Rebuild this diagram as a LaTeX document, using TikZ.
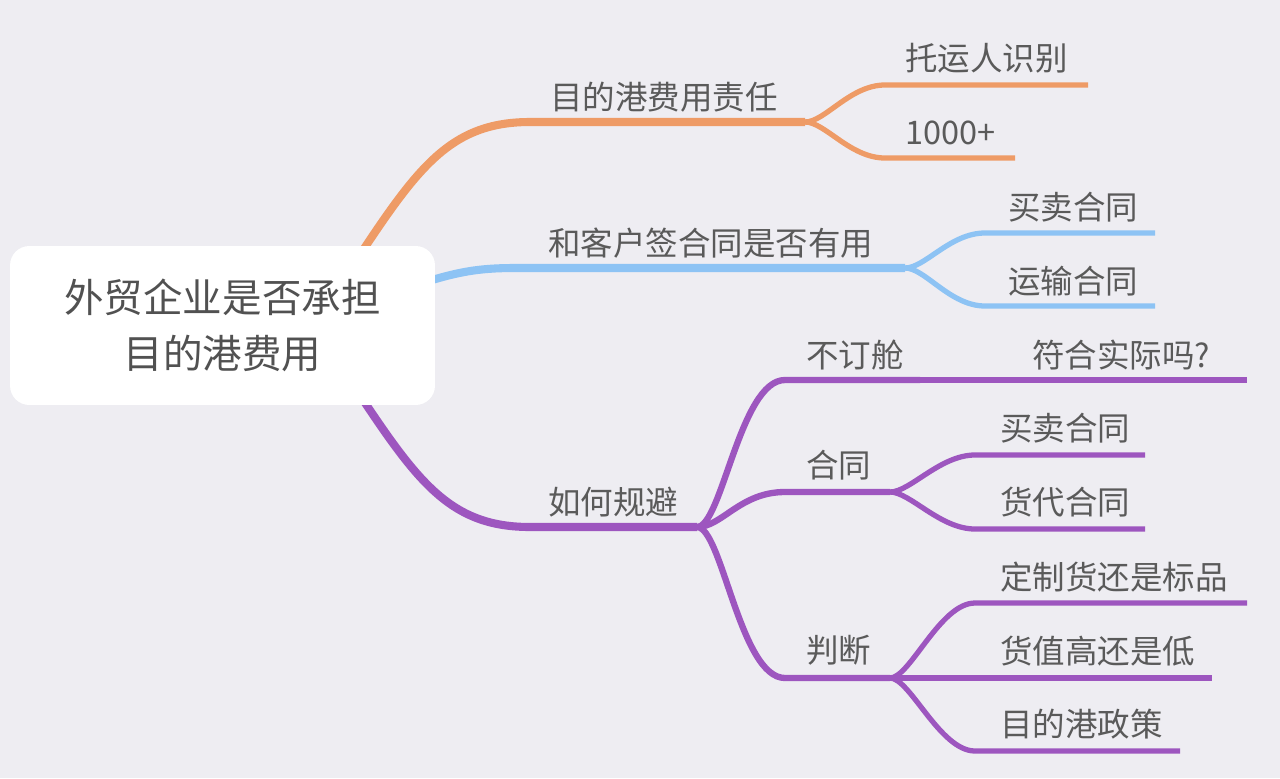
\documentclass[tikz,border=0pt]{standalone}
\usepackage{fontspec}
\setmainfont{Noto Sans CJK SC}
\usetikzlibrary{backgrounds}
\definecolor{bgcol}{HTML}{EEEDF2}
\definecolor{ink}{HTML}{5A5A5A}
\definecolor{orangeline}{HTML}{EE9B66}
\definecolor{blueline}{HTML}{8DC3F4}
\definecolor{purpleline}{HTML}{9D56BF}

\begin{document}
\begin{tikzpicture}[x=0.02cm, y=-0.02cm, line cap=round,
    topic/.style={anchor=west, inner sep=0pt, text=ink, font=\fontsize{18.5}{22}\selectfont},
    mainline/.style={line width=4.6pt},
    subline/.style={line width=3.6pt},
    leafline/.style={line width=3pt}]
    \useasboundingbox (0,0) rectangle (1280,778);
    \node[fill=white, rounded corners=11pt, minimum width=8.5cm, minimum height=3.18cm, align=center,
        text=ink!90!black, font=\fontsize{22.5}{32}\selectfont] (root) at (222.5,325.5) {外贸企业是否承担\\目的港费用};

    \coordinate (duty-in) at (330,300);
    \coordinate (duty-l) at (530,122);
    \coordinate (duty-r) at (805,122);
    \coordinate (shipper-l) at (885,85);
    \coordinate (shipper-r) at (1088,85);
    \coordinate (amount-l) at (885,158);
    \coordinate (amount-r) at (1015,158);
    \node[topic] (duty) at (550,97) {目的港费用责任};
    \node[topic] (shipper) at (905,58) {托运人识别};
    \node[topic] (amount) at (905,133) {1000+};

    \coordinate (contract-in) at (400,290);
    \coordinate (contract-l) at (515,268);
    \coordinate (contract-r) at (905,268);
    \coordinate (sales-l) at (985,233);
    \coordinate (sales-r) at (1155,233);
    \coordinate (transport-l) at (985,306);
    \coordinate (transport-r) at (1155,306);
    \node[topic] (contract) at (548,243) {和客户签合同是否有用};
    \node[topic] (sales) at (1008,207) {买卖合同};
    \node[topic] (transport) at (1008,281) {运输合同};

    \coordinate (avoid-in) at (330,350);
    \coordinate (avoid-l) at (530,527);
    \coordinate (avoid-r) at (697,527);
    \coordinate (nobook-l) at (785,380);
    \coordinate (nobook-r) at (920,380);
    \coordinate (real-r) at (1247,380);
    \coordinate (deal-l) at (785,492);
    \coordinate (deal-r) at (890,492);
    \coordinate (sales2-l) at (975,455);
    \coordinate (sales2-r) at (1145,455);
    \coordinate (agent-l) at (975,529);
    \coordinate (agent-r) at (1145,529);
    \coordinate (judge-l) at (785,678);
    \coordinate (judge-r) at (890,678);
    \coordinate (custom-l) at (975,603);
    \coordinate (custom-r) at (1247,603);
    \coordinate (value-l) at (975,678);
    \coordinate (value-r) at (1212,678);
    \coordinate (policy-l) at (975,751);
    \coordinate (policy-r) at (1180,751);
    \node[topic] (avoid) at (548,502) {如何规避};
    \node[topic] (nobook) at (806,355) {不订舱};
    \node[topic] (real) at (1032,355) {符合实际吗?};
    \node[topic] (deal) at (806,465) {合同};
    \node[topic] (sales2) at (1000,428) {买卖合同};
    \node[topic] (agent) at (1000,502) {货代合同};
    \node[topic] (judge) at (806,650) {判断};
    \node[topic] (custom) at (1000,577) {定制货还是标品};
    \node[topic] (value) at (1000,651) {货值高还是低};
    \node[topic] (policy) at (1000,724) {目的港政策};

    \begin{scope}[on background layer]
        \fill[bgcol] (0,0) rectangle (1280,778);
        \draw[orangeline, mainline] (duty-in) .. controls (410,180) and (440,122) .. (duty-l) -- (duty-r);
        \draw[orangeline, leafline] (duty-r) .. controls +(20,0) and +(-35,0) .. (shipper-l) -- (shipper-r);
        \draw[orangeline, leafline] (duty-r) .. controls +(20,0) and +(-35,0) .. (amount-l) -- (amount-r);

        \draw[blueline, mainline] (contract-in) .. controls (450,274) and (470,268) .. (contract-l) -- (contract-r);
        \draw[blueline, leafline] (contract-r) .. controls +(20,0) and +(-35,0) .. (sales-l) -- (sales-r);
        \draw[blueline, leafline] (contract-r) .. controls +(20,0) and +(-35,0) .. (transport-l) -- (transport-r);

        \draw[purpleline, mainline] (avoid-in) .. controls (410,470) and (440,527) .. (avoid-l) -- (avoid-r);
        \draw[purpleline, subline] (avoid-r) .. controls +(25,0) and +(-45,0) .. (nobook-l) -- (nobook-r);
        \draw[purpleline, leafline] (nobook-r) -- (real-r);
        \draw[purpleline, subline] (avoid-r) .. controls +(25,0) and +(-45,0) .. (deal-l) -- (deal-r);
        \draw[purpleline, leafline] (deal-r) .. controls +(20,0) and +(-35,0) .. (sales2-l) -- (sales2-r);
        \draw[purpleline, leafline] (deal-r) .. controls +(20,0) and +(-35,0) .. (agent-l) -- (agent-r);
        \draw[purpleline, subline] (avoid-r) .. controls +(25,0) and +(-45,0) .. (judge-l) -- (judge-r);
        \draw[purpleline, leafline] (judge-r) .. controls +(20,0) and +(-35,0) .. (custom-l) -- (custom-r);
        \draw[purpleline, leafline] (judge-r) -- (value-l) -- (value-r);
        \draw[purpleline, leafline] (judge-r) .. controls +(20,0) and +(-35,0) .. (policy-l) -- (policy-r);
    \end{scope}
\end{tikzpicture}
\end{document}
